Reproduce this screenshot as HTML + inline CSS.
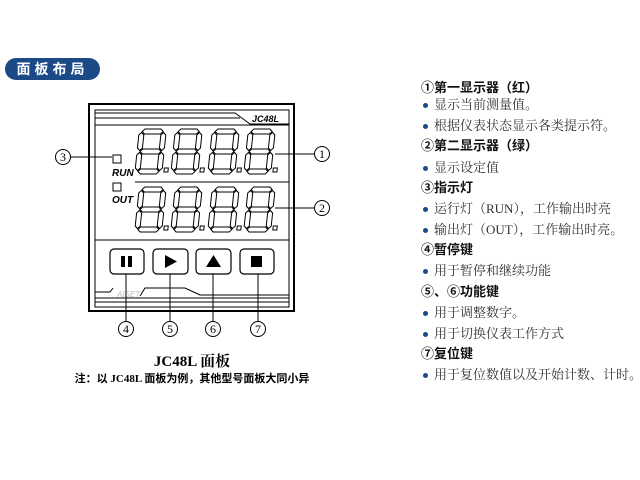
<!DOCTYPE html>
<html><head><meta charset="utf-8"><style>
body{margin:0;width:640px;height:480px;background:#fff;position:relative;overflow:hidden;font-family:"Liberation Serif","Noto Serif CJK SC",serif}
.pill{position:absolute;left:5px;top:58px;width:95px;height:22px;background:#1b4a86;border-radius:11px;color:#fff;font:bold 14px "Liberation Sans","Noto Sans CJK SC",sans-serif;letter-spacing:4px;line-height:22px;text-align:center}
.r{position:absolute;left:421px;font-size:13px;color:#111;white-space:nowrap;line-height:16px}
.h{font-weight:bold;font-family:"Liberation Sans","Noto Sans CJK SC",sans-serif}
.b{color:#333;font-family:"Liberation Serif","Noto Serif CJK SC",serif}
.b:before{content:"";display:inline-block;width:5px;height:5px;border-radius:50%;background:#1b4a86;margin:0 6px 2px 2px;vertical-align:middle}
</style></head><body>
<div class="pill">面板布局</div>
<svg width="640" height="480" style="position:absolute;left:0;top:0">
<defs>
<g id="d" fill="#fff" stroke="#000" stroke-width="1">
<polygon points="3,2.5 5.5,0 21.5,0 24,2.5 21.5,5 5.5,5"/>
<polygon points="3,22.5 5.5,20 21.5,20 24,22.5 21.5,25 5.5,25"/>
<polygon points="3,42.5 5.5,40 21.5,40 24,42.5 21.5,45 5.5,45"/>
<polygon points="2.5,3.5 5,6 5,19 2.5,21.5 0,19 0,6"/>
<polygon points="24.5,3.5 27,6 27,19 24.5,21.5 22,19 22,6"/>
<polygon points="2.5,23.5 5,26 5,39 2.5,41.5 0,39 0,26"/>
<polygon points="24.5,23.5 27,26 27,39 24.5,41.5 22,39 22,26"/>
<rect x="29" y="39" width="4" height="4"/>
</g>
</defs>
<g fill="none" stroke="#000">
<rect x="89" y="104" width="205" height="207" stroke-width="2"/>
<rect x="95" y="110" width="194" height="197" stroke-width="1"/>
<line x1="95" y1="118" x2="240" y2="118"/>
<polyline points="95,113 235,113 250,124 289,124"/>
<line x1="95" y1="125" x2="289" y2="125"/>
<line x1="135" y1="182" x2="289" y2="182"/>
<line x1="95" y1="240" x2="289" y2="240"/>
<polyline points="95,292 110,292 113,288"/>
<polyline points="140,296 145,288 185,288 200,295 289,295"/>
<line x1="95" y1="298" x2="289" y2="298"/>
<line x1="95" y1="302" x2="289" y2="302"/>
<rect x="113" y="155" width="8" height="8"/>
<rect x="113" y="183" width="8" height="8"/>
</g>
<text x="252" y="122" font-size="9" font-weight="bold" font-style="italic" font-family="Liberation Sans,sans-serif">JC48L</text>
<text x="112" y="176" font-size="10" font-weight="bold" font-style="italic" font-family="Liberation Sans,sans-serif">RUN</text>
<text x="112" y="203" font-size="10" font-weight="bold" font-style="italic" font-family="Liberation Sans,sans-serif">OUT</text>
<text x="117" y="297" font-size="8" font-style="italic" fill="#bbb" font-family="Liberation Sans,sans-serif">AISET</text>
<g transform="skewX(-6)">
<use href="#d" x="153" y="129"/><use href="#d" x="189" y="129"/><use href="#d" x="226" y="129"/><use href="#d" x="262" y="129"/>
<use href="#d" x="159" y="187"/><use href="#d" x="195" y="187"/><use href="#d" x="232" y="187"/><use href="#d" x="268" y="187"/>
</g>
<g fill="none" stroke="#000" stroke-width="1.2">
<rect x="110" y="249" width="34" height="25" rx="4"/>
<rect x="153" y="249" width="35" height="25" rx="4"/>
<rect x="196" y="249" width="35" height="25" rx="4"/>
<rect x="240" y="249" width="34" height="25" rx="4"/>
</g>
<rect x="121" y="256" width="4" height="11"/><rect x="128" y="256" width="4" height="11"/>
<polygon points="165,255 177,261.5 165,268"/>
<polygon points="206,267 213.5,255 221,267"/>
<rect x="251" y="256" width="11" height="11"/>
<g stroke="#000" fill="none">
<line x1="126" y1="274" x2="126" y2="321"/>
<line x1="170" y1="274" x2="170" y2="321"/>
<line x1="213" y1="274" x2="213" y2="321"/>
<line x1="258" y1="274" x2="258" y2="321"/>
<line x1="71" y1="157" x2="112" y2="157"/>
<line x1="275" y1="154" x2="314" y2="154"/>
<line x1="275" y1="208" x2="314" y2="208"/>
<circle cx="63" cy="157" r="7.5" fill="#fff"/>
<circle cx="322" cy="154" r="7.5" fill="#fff"/>
<circle cx="322" cy="208" r="7.5" fill="#fff"/>
<circle cx="126" cy="329" r="7.5" fill="#fff"/>
<circle cx="170" cy="329" r="7.5" fill="#fff"/>
<circle cx="213" cy="329" r="7.5" fill="#fff"/>
<circle cx="258" cy="329" r="7.5" fill="#fff"/>
</g>
<g font-size="12" text-anchor="middle" font-family="Liberation Serif,serif">
<text x="63" y="161">3</text><text x="322" y="158">1</text><text x="322" y="212">2</text>
<text x="126" y="333">4</text><text x="170" y="333">5</text><text x="213" y="333">6</text><text x="258" y="333">7</text>
</g>
<text x="192" y="366" font-size="15" font-weight="bold" text-anchor="middle" font-family="Liberation Serif,Noto Serif CJK SC,serif">JC48L 面板</text>
<text x="192" y="382" font-size="11" font-weight="bold" text-anchor="middle" font-family="Liberation Serif,Noto Sans CJK SC,serif">注：以 JC48L 面板为例，其他型号面板大同小异</text>
</svg>
<div class="r h" style="top:80px">①第一显示器（红）</div>
<div class="r b" style="top:97px">显示当前测量值。</div>
<div class="r b" style="top:118px">根据仪表状态显示各类提示符。</div>
<div class="r h" style="top:138px">②第二显示器（绿）</div>
<div class="r b" style="top:160px">显示设定值</div>
<div class="r h" style="top:180px">③指示灯</div>
<div class="r b" style="top:201px">运行灯（RUN），工作输出时亮</div>
<div class="r b" style="top:222px">输出灯（OUT），工作输出时亮。</div>
<div class="r h" style="top:242px">④暂停键</div>
<div class="r b" style="top:263px">用于暂停和继续功能</div>
<div class="r h" style="top:284px">⑤、⑥功能键</div>
<div class="r b" style="top:305px">用于调整数字。</div>
<div class="r b" style="top:326px">用于切换仪表工作方式</div>
<div class="r h" style="top:346px">⑦复位键</div>
<div class="r b" style="top:367px">用于复位数值以及开始计数、计时。</div>
</body></html>
